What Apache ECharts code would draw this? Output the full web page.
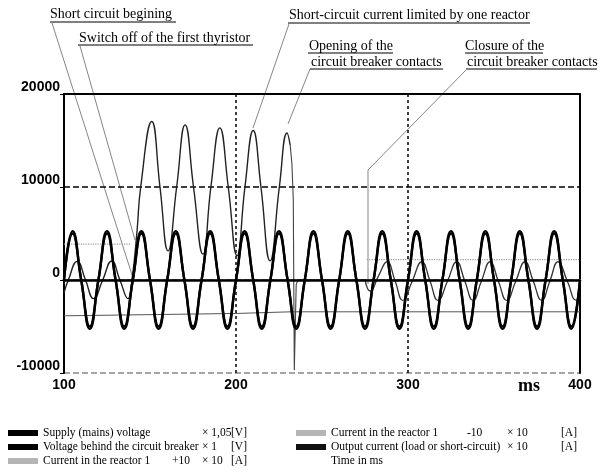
<!DOCTYPE html>
<html><head><meta charset="utf-8">
<script src="https://cdn.jsdelivr.net/npm/echarts@6/dist/echarts.min.js"></script>
<style>html,body{margin:0;padding:0;background:#fff}#c{width:600px;height:474px}</style>
</head><body><div id="c"></div>
<script>
// ---- axis ticks ----
const xTicks = [100, 200, 300, 400];
const yTicks = [-10000, 0, 10000, 20000];

// ---- sine-like voltages, sampled at peaks / zero crossings (ms) ----
const quarterT = [100,105,110,115,120,125,130,135,140,145,150,155,160,165,170,175,180,185,190,195,
  200,205,210,215,220,225,230,235,240,245,250,255,260,265,270,275,280,285,290,295,
  300,305,310,315,320,325,330,335,340,345,350,355,360,365,370,375,380,385,390,395,400];
const supplyV = [0,5250,0,-5250, 0,5250,0,-5250, 0,5250,0,-5250, 0,5250,0,-5250, 0,5250,0,-5250,
  0,5250,0,-5250, 0,5250,0,-5250, 0,5250,0,-5250, 0,5250,0,-5250, 0,5250,0,-5250,
  0,5250,0,-5250, 0,5250,0,-5250, 0,5250,0,-5250, 0,5250,0,-5250, 0,5250,0,-5250, 0];
const behindV = [0,5000,0,-5000, 0,5000,0,-5000, 0,5000,0,-5000, 0,5000,0,-5000, 0,5000,0,-5000,
  0,5000,0,-5000, 0,5000,0,-5000, 0,5000,0,-5000, 0,5000,0,-5000, 0,5000,0,-5000,
  0,5000,0,-5000, 0,5000,0,-5000, 0,5000,0,-5000, 0,5000,0,-5000, 0,5000,0,-5000, 0];

// ---- output current: load, short circuit, breaker opening, closure ----
const outT1 = [100,102.5,107.7,112.5,117.2,122.5,127.7,132.5,137.2,139.5,142.4,144.6,151,155.8,160.5,165.5,
  170.4,175.3,180.8,185.4,190.6,195.5,200.6,205.2,210,214.5,219.8,225.2,229.7,231.5];
const outV1 = [-1400,0,2000,0,-2000,0,2050,0,-2000,0,5130,10000,17040,10000,3130,10000,
  16680,10000,2780,10000,16360,10000,2600,10000,16070,10000,2060,10000,15800,14500];
const outT2 = [231.5,232.5,233.3,233.9,235,236,275];
const outV2 = [14500,12500,8660,-9700,-500,0,0];
const outT3 = [275,278,283,287.8,292.5,297,302.5,308,312.8,317.4,323,328.3,333,337.8,342.7,347.7,
  352.5,357.4,362.7,368,372.8,377.7,382.5,387.2,392.6,398,400];
const outV3 = [0,-1200,500,1960,-100,-2200,-100,1960,-100,-2200,-100,1960,-100,-2200,-100,1960,
  -100,-2200,-100,1960,-100,-2200,-100,1960,-100,-2200,-1900];

// ---- reactor currents (with offsets) ----
const rpT = [100,139,200,276,400];
const rpV = [3850,3850,null,2200,2200];
const rmT = [100,200,232,400];
const rmV = [-3850,-3600,-3420,-3420];

// ---- legend names ----
const nSupply = 'Supply (mains) voltage';
const nBehind = 'Voltage behind the circuit breaker';
const nRp = 'Current in the reactor 1 +10';
const nRm = 'Current in the reactor 1 -10';
const nOut = 'Output current (load or short-circuit)';
const nTime = 'Time in ms';

const zip = (t, v) => t.map((x, i) => [x, v[i]]);
const serif = '"Liberation Serif", "Times New Roman", serif';
const LF = 11.5;
const rs = (w) => Object.assign({fontFamily: serif, fontSize: LF, color: '#000', lineHeight: 14}, w ? {width: w} : {});

const legendText = {};
legendText[nSupply] = '{a|Supply (mains) voltage}{x|× 1,05}{u|[V]}';
legendText[nBehind] = '{a|Voltage behind the circuit breaker}{x|× 1}{u|[V]}';
legendText[nRp] = '{s|Current in the reactor 1}{o|+10}{x|× 10}{u|[A]}';
legendText[nRm] = '{s2|Current in the reactor 1}{o2|-10}{x2|× 10}{u|[A]}';
legendText[nOut] = '{p|Output current (load or short-circuit)}{x2|× 10}{u|[A]}';
legendText[nTime] = '{u|Time in ms}';

const richAll = {a: rs(159), x: rs(29), u: rs(), s: rs(129), o: rs(30),
  s2: rs(136), o2: rs(40), x2: rs(54), p: rs(176)};

const lgBase = {orient: 'vertical', itemWidth: 30, itemHeight: 6, itemGap: 0, padding: 0, height: 48,
  selectedMode: false, icon: 'rect', formatter: n => legendText[n],
  textStyle: {fontFamily: serif, fontSize: LF, color: '#000', lineHeight: 14, rich: richAll}};

const anno = {stroke: '#666', lineWidth: 0.8};
const annoFont = '14px ' + serif;
function txt(x, y, s) { return {type: 'text', x: x, y: y, style: {text: s, font: annoFont, fill: '#000', verticalAlign: 'middle'}}; }
function ln(x1, y1, x2, y2, st) { return {type: 'line', shape: {x1, y1, x2, y2}, style: st || {stroke: '#000', lineWidth: 1}}; }

const chart = echarts.init(document.getElementById('c'));
chart.setOption({
  animation: false,
  backgroundColor: '#fff',
  grid: {left: 64, right: 20, top: 94, bottom: 101, show: false},
  xAxis: [{
    type: 'value', min: xTicks[0], max: xTicks[xTicks.length - 1], interval: 100,
    axisLine: {show: true, lineStyle: {color: '#888', width: 1.5}},
    axisTick: {show: true, length: 4, lineStyle: {color: '#000', width: 1.5}},
    axisLabel: {margin: 5, color: '#000', formatter: v => String(v),
      fontFamily: '"Liberation Sans", Arial, sans-serif', fontWeight: 'bold', fontSize: 14},
    splitLine: {show: true, lineStyle: {color: '#000', width: 1.5, type: [3, 3]}}
  }, {
    type: 'value', position: 'top', min: xTicks[0], max: xTicks[xTicks.length - 1],
    axisLine: {show: true, onZero: false, lineStyle: {color: '#000', width: 2}},
    axisTick: {show: false}, axisLabel: {show: false}, splitLine: {show: false}
  }],
  yAxis: [{
    type: 'value', min: yTicks[0], max: yTicks[yTicks.length - 1], interval: 10000,
    axisLine: {show: true, lineStyle: {color: '#000', width: 2}},
    axisTick: {show: true, length: 4, lineStyle: {color: '#000', width: 1}},
    axisLabel: {margin: 4, verticalAlign: 'bottom', color: '#000', formatter: v => String(v),
      fontFamily: '"Liberation Sans", Arial, sans-serif', fontWeight: 'bold', fontSize: 14},
    splitLine: {show: true, lineStyle: {color: ['#888', '#000', '#000', '#000'], width: 1.5, type: [6, 3]}}
  }, {
    type: 'value', position: 'right', min: yTicks[0], max: yTicks[yTicks.length - 1],
    axisLine: {show: true, onZero: false, lineStyle: {color: '#000', width: 2}},
    axisTick: {show: false}, axisLabel: {show: false}, splitLine: {show: false}
  }],
  legend: [
    Object.assign({}, lgBase, {left: 8, top: 426, data: [
      {name: nSupply}, {name: nBehind}, {name: nRp, itemStyle: {color: '#b5b5b5'}}]}),
    Object.assign({}, lgBase, {left: 296, top: 426, data: [
      {name: nRm, itemStyle: {color: '#b5b5b5'}}, {name: nOut}, {name: nTime, icon: 'none'}]})
  ],
  series: [
    {name: nRp, type: 'line', data: zip(rpT, rpV), symbol: 'none', color: '#999', connectNulls: false,
      lineStyle: {color: '#999', width: 1.2, type: 'dotted'}},
    {name: nRm, type: 'line', data: zip(rmT, rmV), symbol: 'none', color: '#b5b5b5',
      lineStyle: {color: '#555', width: 1}},
    {name: nOut, type: 'line', data: zip(outT1, outV1), symbol: 'none', smooth: 0.5, color: '#111',
      lineStyle: {color: '#222', width: 1.4}},
    {name: nOut, type: 'line', data: zip(outT2, outV2), symbol: 'none', color: '#111',
      lineStyle: {color: '#444', width: 1.1}},
    {name: nOut, type: 'line', data: zip(outT3, outV3), symbol: 'none', smooth: 0.5, color: '#111',
      lineStyle: {color: '#333', width: 1.3}},
    {name: nBehind, type: 'line', data: zip(quarterT, behindV), symbol: 'none', smooth: 0.5, color: '#000',
      lineStyle: {color: '#000', width: 2.4}},
    {name: nSupply, type: 'line', data: zip(quarterT, supplyV), symbol: 'none', smooth: 0.5, color: '#000',
      lineStyle: {color: '#000', width: 2.4},
      markLine: {silent: true, symbol: ['none', 'none'], label: {show: false},
        lineStyle: {color: '#000', width: 2.5, type: 'solid'}, data: [{yAxis: 0}]}},
    {name: nTime, type: 'line', data: []}
  ],
  graphic: [
    // leader lines
    ln(52, 23, 133, 278, anno),
    ln(80, 46, 135, 240, anno),
    ln(289, 24, 253, 128, anno),
    ln(310, 69, 288, 124, anno),
    {type: 'polyline', shape: {points: [[466, 70], [368, 170], [368, 284]]}, style: Object.assign({fill: null}, anno)},
    // annotation texts
    txt(50, 14, 'Short circuit begining'),
    ln(50, 22, 176, 22),
    txt(79, 38, 'Switch off of the first thyristor'),
    ln(78, 45, 253, 45),
    txt(289, 15, 'Short-circuit current limited by one reactor'),
    ln(288, 23, 530, 23),
    txt(309, 46, 'Opening of the'),
    ln(308, 53, 393, 53),
    txt(311, 62, 'circuit breaker contacts'),
    ln(310, 69, 443, 69),
    txt(465, 46, 'Closure of the'),
    ln(465, 53, 543, 53),
    txt(467, 62, 'circuit breaker contacts'),
    ln(466, 69, 597, 69),
    {type: 'text', x: 518, y: 386, style: {text: 'ms', font: 'bold 18px ' + serif, fill: '#000', verticalAlign: 'middle'}}
  ]
});
</script>
</body></html>
